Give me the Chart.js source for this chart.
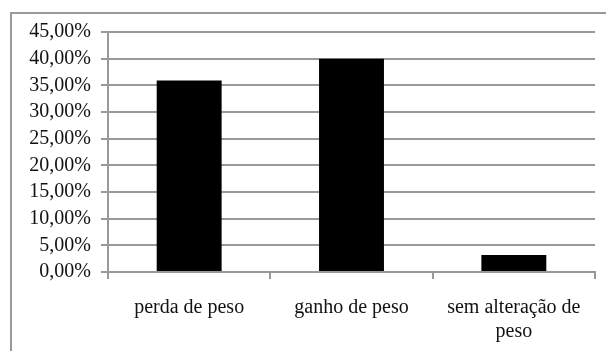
<!DOCTYPE html>
<html>
<head>
<meta charset="utf-8">
<script src="https://cdn.jsdelivr.net/npm/chart.js@4"></script>
<style>
  body { margin: 0; background: #fff; }
  canvas { display: block; }
</style>
</head>
<body>
<canvas id="myChart" width="606" height="351"></canvas>
<script>
var categorias = ['perda de peso', 'ganho de peso', ['sem alteração de', 'peso']];
var percentuais = [35.9, 40.0, 3.2];
var eixoMax = 45;
var eixoPasso = 5;

var corLinha = '#999999';
var fonte = { family: "'Liberation Serif', 'Times New Roman', serif", size: 20 };

// moldura cinza em volta do grafico
var moldura = {
    id: 'moldura',
    beforeDraw: function(chart) {
        var ctx = chart.ctx;
        ctx.save();
        ctx.fillStyle = '#fff';
        ctx.fillRect(0, 0, chart.width, chart.height);
        ctx.strokeStyle = corLinha;
        ctx.lineWidth = 2;
        ctx.beginPath();
        ctx.moveTo(11, chart.height);
        ctx.lineTo(11, 13);
        ctx.lineTo(chart.width, 13);
        ctx.stroke();
        ctx.restore();
    }
};

var config = {
    type: 'bar',
    data: {
        labels: categorias,
        datasets: [{
            data: percentuais,
            backgroundColor: '#000',
            barPercentage: 0.4,
            categoryPercentage: 1
        }]
    },
    options: {
        responsive: false,
        animation: false,
        layout: { padding: { left: 0, top: 32, right: 11, bottom: 0 } },
        plugins: {
            legend: { display: false },
            tooltip: { enabled: false }
        },
        scales: {
            x: {
                afterFit: function(scale) { scale.height = 79; },
                grid: {
                    offset: true,
                    drawOnChartArea: false,
                    drawTicks: true,
                    tickLength: 7,
                    color: corLinha,
                    lineWidth: 2
                },
                border: { color: corLinha, width: 2 },
                ticks: {
                    color: '#111',
                    font: fonte,
                    padding: 17,
                    maxRotation: 0,
                    autoSkip: false
                }
            },
            y: {
                min: 0,
                max: eixoMax,
                afterFit: function(scale) { scale.width = 108; },
                grid: {
                    color: corLinha,
                    lineWidth: 2,
                    tickLength: 7
                },
                border: { color: corLinha, width: 2 },
                ticks: {
                    stepSize: eixoPasso,
                    autoSkip: false,
                    color: '#111',
                    font: fonte,
                    padding: 10,
                    callback: function(value) {
                        return value.toFixed(2).replace('.', ',') + '%';
                    }
                }
            }
        }
    },
    plugins: [moldura]
};

var ctx = document.getElementById('myChart').getContext('2d');
var myChart = new Chart(ctx, config);
</script>
</body>
</html>
